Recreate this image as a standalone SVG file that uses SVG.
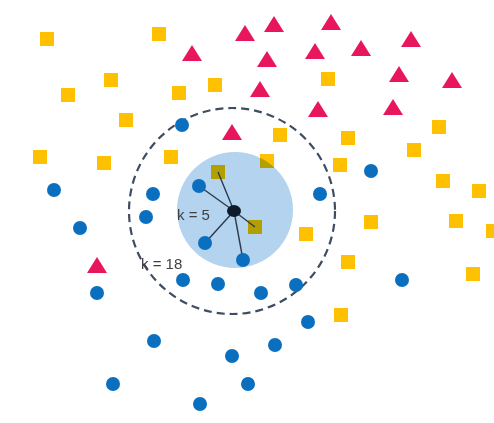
<svg xmlns="http://www.w3.org/2000/svg" width="494" height="423" viewBox="0 0 494 423">
<style>
.sq{fill:#FFC000}
.tri{fill:#E8175D}
.dot{fill:#0B6FBF}
.lbl{font-family:"Liberation Sans",Arial,sans-serif;font-size:15px;fill:#404040}
.edge{stroke:#2B3A4D;stroke-width:1.4;fill:none}
</style>
<defs>
<rect id="s" x="-7" y="-7" width="14" height="14"/>
<polygon id="t" points="0,-8 10,8 -10,8"/>
</defs>
<rect width="494" height="423" fill="#fff"/>
<g id="squares" class="sq">
<use href="#s" x="47" y="39"/><use href="#s" x="159" y="34"/><use href="#s" x="111" y="80"/>
<use href="#s" x="68" y="95"/><use href="#s" x="179" y="93"/><use href="#s" x="215" y="85"/>
<use href="#s" x="126" y="120"/><use href="#s" x="328" y="79"/><use href="#s" x="280" y="135"/>
<use href="#s" x="348" y="138"/><use href="#s" x="439" y="127"/><use href="#s" x="414" y="150"/>
<use href="#s" x="40" y="157"/><use href="#s" x="104" y="163"/><use href="#s" x="171" y="157"/>
<use href="#s" x="218" y="172"/><use href="#s" x="267" y="161"/><use href="#s" x="340" y="165"/>
<use href="#s" x="443" y="181"/><use href="#s" x="479" y="191"/><use href="#s" x="255" y="227"/>
<use href="#s" x="306" y="234"/><use href="#s" x="371" y="222"/><use href="#s" x="456" y="221"/>
<use href="#s" x="493" y="231"/><use href="#s" x="348" y="262"/><use href="#s" x="473" y="274"/>
<use href="#s" x="341" y="315"/>
</g>
<g id="triangles" class="tri">
<use href="#t" x="192" y="53"/><use href="#t" x="245" y="33"/><use href="#t" x="274" y="24"/>
<use href="#t" x="331" y="22"/><use href="#t" x="267" y="59"/><use href="#t" x="315" y="51"/>
<use href="#t" x="361" y="48"/><use href="#t" x="411" y="39"/><use href="#t" x="399" y="74"/>
<use href="#t" x="452" y="80"/><use href="#t" x="260" y="89"/><use href="#t" x="318" y="109"/>
<use href="#t" x="393" y="107"/><use href="#t" x="232" y="132"/><use href="#t" x="97" y="265"/>
</g>
<g id="k5-region">
<circle cx="235" cy="210" r="58" fill="#B4D3EE" style="mix-blend-mode:multiply"/>
</g>
<g id="k18-region">
<circle cx="232" cy="211" r="103" fill="none" stroke="#3E4D63" stroke-width="2.2" stroke-dasharray="8,5"/>
</g>
<g id="connectors">
<line class="edge" x1="234" y1="211" x2="218" y2="172"/>
<line class="edge" x1="234" y1="211" x2="199" y2="186"/>
<line class="edge" x1="234" y1="211" x2="205" y2="243"/>
<line class="edge" x1="234" y1="211" x2="243" y2="260"/>
<line class="edge" x1="234" y1="211" x2="255" y2="227"/>
</g>
<g id="dots" class="dot">
<circle cx="182" cy="125" r="7"/><circle cx="54" cy="190" r="7"/><circle cx="80" cy="228" r="7"/>
<circle cx="153" cy="194" r="7"/><circle cx="146" cy="217" r="7"/><circle cx="199" cy="186" r="7"/>
<circle cx="205" cy="243" r="7"/><circle cx="243" cy="260" r="7"/><circle cx="97" cy="293" r="7"/>
<circle cx="183" cy="280" r="7"/><circle cx="218" cy="284" r="7"/><circle cx="261" cy="293" r="7"/>
<circle cx="296" cy="285" r="7"/><circle cx="320" cy="194" r="7"/><circle cx="371" cy="171" r="7"/>
<circle cx="402" cy="280" r="7"/><circle cx="308" cy="322" r="7"/><circle cx="275" cy="345" r="7"/>
<circle cx="154" cy="341" r="7"/><circle cx="232" cy="356" r="7"/><circle cx="113" cy="384" r="7"/>
<circle cx="200" cy="404" r="7"/><circle cx="248" cy="384" r="7"/>
</g>
<g id="query">
<ellipse cx="234" cy="211" rx="7" ry="6" fill="#0D1B2A"/>
</g>
<g id="labels">
<text class="lbl" x="177" y="220">k = 5</text>
<text class="lbl" x="141" y="269">k = 18</text>
</g>
</svg>
